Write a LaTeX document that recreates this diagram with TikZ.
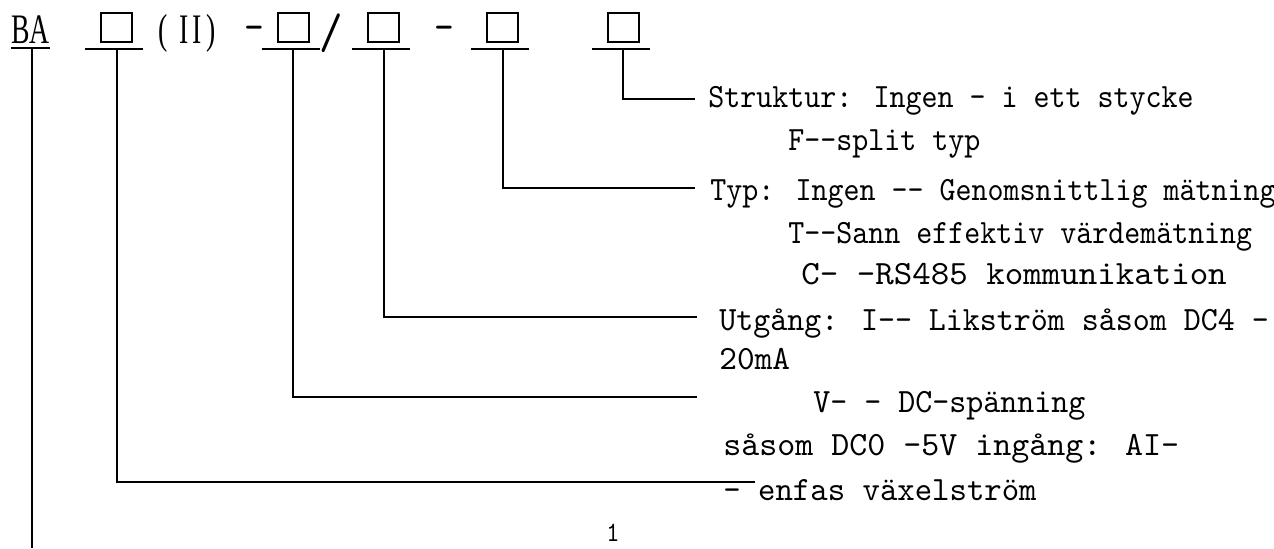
\documentclass[tikz,border=0pt]{standalone}
\usepackage{fontspec}
\newfontfamily\codefont[FakeStretch=0.896,Ligatures=TeXOff]{lmmono10-regular.otf}
\newfontfamily\headfont[FakeStretch=0.66]{Liberation Serif}
\usetikzlibrary{calc}
\tikzset{
  codebox/.style={draw, line width=1pt, minimum width=15.5pt, minimum height=14.5pt, inner sep=0pt},
  head/.style={anchor=base, inner sep=0pt, font=\headfont\fontsize{21}{24}\selectfont},
  headsign/.style={anchor=base, inner sep=0pt, font=\codefont\fontsize{21}{24}\selectfont},
  desc/.style={anchor=base west, inner sep=0pt, font=\codefont\fontsize{17}{20}\selectfont},
  wide/.style={font=\codefont\fontsize{17}{20}\selectfont\addfontfeature{FakeStretch=#1}},
  leader/.style={line width=1pt}
}

\begin{document}
\begin{tikzpicture}[x=0.5pt, y=-0.5pt]
    \useasboundingbox (0,0) rectangle (1274,548);

    % Typkod
    \node (ba) [head] at (30.5,43) {BA};
    \node (b1) [codebox] at (116.5,27.5) {};
    \node (roman) [head] at (187,43) {(\kern6pt I\kern2pt I\kern2pt)};
    \node (d1) [headsign] at (254.5,40) {-};
    \node (b2) [codebox] at (293,27.5) {};
    \node (slash) [headsign, font=\codefont\fontsize{25}{28}\selectfont] at (331,48) {/};
    \node (b3) [codebox] at (383.5,27.5) {};
    \node (d2) [headsign] at (444,40) {-};
    \node (b4) [codebox] at (502.5,27.5) {};
    \node (b5) [codebox] at (623,27.5) {};

    % Beskrivningar
    \node (s1) [desc] at (708,107) {Struktur: Ingen - i ett stycke};
    \node (s2) [desc] at (788,150) {F--split typ};
    \node (ty1) [desc] at (710,200) {Typ: Ingen -- Genomsnittlig mätning};
    \node (ty2) [desc] at (788,243) {T--Sann effektiv värdemätning};
    \node (ty3) [desc, wide=1.036] at (801,284) {C- -RS485 kommunikation};
    \node (ut1) [desc, wide=0.952] at (719,330) {Utgång: I-- Likström såsom DC4 -};
    \node (ut2) [desc, wide=0.99] at (719,369) {20mA};
    \node (sp1) [desc, wide=0.952] at (813,412) {V- - DC-spänning};
    \node (sp2) [desc, wide=1.008] at (723,455) {såsom DC0 -5V ingång: AI-};
    \node (ac1) [desc, wide=0.975] at (723,500) {- enfas växelström};
    \node (page) [desc, font=\codefont\fontsize{14}{16}\selectfont] at (606,541) {1};

    \coordinate (e5) at (695,99);
    \coordinate (e4) at (695,188);
    \coordinate (e3) at (697,317);
    \coordinate (e2) at (697,397);
    \coordinate (e1) at (755,482);
    \coordinate (baend) at (32,548);

    % Linjer
    \draw [leader] ($(ba.base west)+(0,5)$) -- ($(ba.base east)+(0,5)$);
    \draw [leader] ($(ba.base)+(1.5,5)$) -- (baend);
    \foreach \b in {b1,b2,b3,b4,b5}
        \draw [leader] ($(\b.south west)+(-15,6)$) -- ($(\b.south east)+(10,6)$);
    \foreach \b/\e in {b1/e1,b2/e2,b3/e3,b4/e4,b5/e5}
        \draw [leader] ($(\b.south)+(0,6)$) |- (\e);

\end{tikzpicture}
\end{document}
